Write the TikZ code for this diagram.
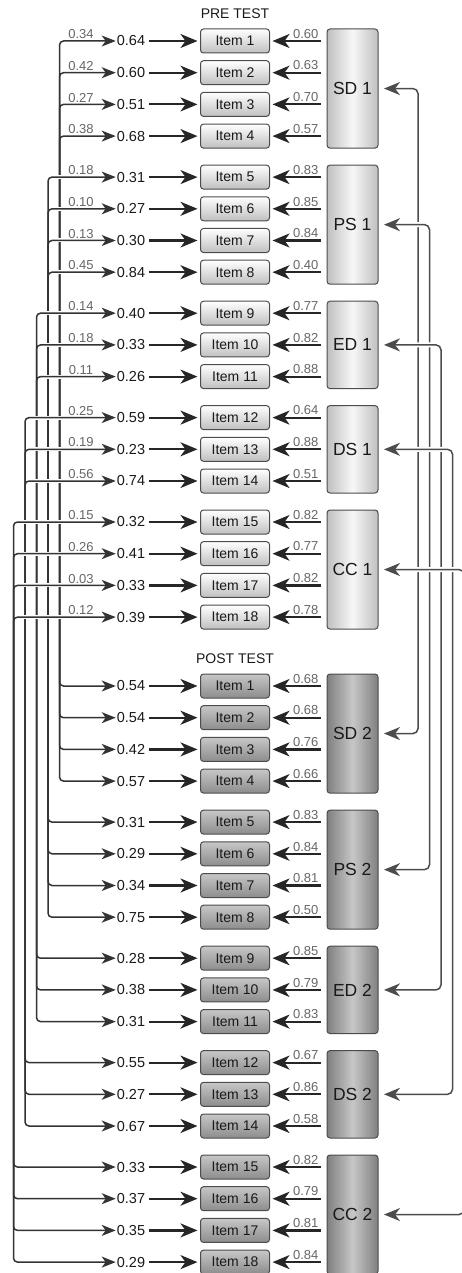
\documentclass[tikz,border=0pt]{standalone}
\usepackage{fontspec}
\setmainfont{Liberation Sans}
\usetikzlibrary{arrows.meta}

\begin{document}
\begin{tikzpicture}[x=1pt,y=-1pt,
 txt/.style={text=black!90,inner sep=1pt,font=\fontsize{14.5}{16}\selectfont},
 lbl/.style={text=black!60,inner sep=1.5pt,font=\fontsize{13}{15}\selectfont},
 itema/.style={draw=black!70,line width=1pt,rounded corners=3pt,minimum width=69pt,minimum height=24pt,
   inner sep=0pt,outer xsep=3pt,top color=white,bottom color=black!25,text=black!90,font=\fontsize{14}{16}\selectfont},
 itemb/.style={itema,top color=black!22,bottom color=black!45},
 fac/.style={draw=black!70,line width=1pt,rounded corners=3pt,minimum width=51pt,inner sep=0pt,
   outer xsep=6pt,text=black!90,font=\fontsize{17.5}{19}\selectfont},
 faca/.style={fac,left color=black!25,right color=black!25,middle color=black!3},
 facb/.style={fac,left color=black!50,right color=black!50,middle color=black!22},
 res/.style={-{Stealth[length=17pt,width=14pt,inset=5pt]},black!85,line width=2.2pt},
 cov/.style={{Stealth[length=14pt,width=11pt,inset=4pt]}-{Stealth[length=14pt,width=11pt,inset=4pt]},
   black!80,line width=1.5pt,rounded corners=4pt},
 gap/.style={white,line width=4pt},
 link/.style={{Stealth[length=16pt,width=13pt,inset=5pt]}-{Stealth[length=16pt,width=13pt,inset=5pt]},
   black!70,line width=1.5pt,rounded corners=5pt,preaction={draw=white,line width=5pt}}]
\useasboundingbox (0,0) rectangle (461,1273);

\node[txt,font=\fontsize{14}{16}\selectfont] (pre) at (235,14) {PRE TEST};
\node[txt,font=\fontsize{14}{16}\selectfont] (post) at (235,659) {POST TEST};

% latent factors, pre and post
\foreach \f/\t/\a/\n/\g in {SD/SD/1/4/0,PS/PS/5/4/1,ED/ED/9/3/2,DS/DS/12/3/3,CC/CC/15/4/4}{
  \pgfmathsetmacro\yf{41+(\a-1)*31.7+\g*9.3+(\n-1)*15.85}
  \pgfmathsetmacro\hf{(\n-1)*31.7+24}
  \node[faca,minimum height=\hf pt] (\f1) at (352.5,\yf) {\t\ 1};
  \node[facb,minimum height=\hf pt] (\f2) at (352.5,\yf+645) {\t\ 2};
}

% items, residuals and correlated errors
\foreach \i/\g/\cv/\ra/\la/\rb/\lb/\f in {
  1/0/0.34/0.64/0.60/0.54/0.68/SD, 2/0/0.42/0.60/0.63/0.54/0.68/SD,
  3/0/0.27/0.51/0.70/0.42/0.76/SD, 4/0/0.38/0.68/0.57/0.57/0.66/SD,
  5/1/0.18/0.31/0.83/0.31/0.83/PS, 6/1/0.10/0.27/0.85/0.29/0.84/PS,
  7/1/0.13/0.30/0.84/0.34/0.81/PS, 8/1/0.45/0.84/0.40/0.75/0.50/PS,
  9/2/0.14/0.40/0.77/0.28/0.85/ED, 10/2/0.18/0.33/0.82/0.38/0.79/ED,
  11/2/0.11/0.26/0.88/0.31/0.83/ED,
  12/3/0.25/0.59/0.64/0.55/0.67/DS, 13/3/0.19/0.23/0.88/0.27/0.86/DS,
  14/3/0.56/0.74/0.51/0.67/0.58/DS,
  15/4/0.15/0.32/0.82/0.33/0.82/CC, 16/4/0.26/0.41/0.77/0.37/0.79/CC,
  17/4/0.03/0.33/0.82/0.35/0.81/CC, 18/4/0.12/0.39/0.78/0.29/0.84/CC}{
  \pgfmathsetmacro\ya{41+(\i-1)*31.7+\g*9.3}
  \pgfmathsetmacro\yb{\ya+645}
  \pgfmathsetmacro\cx{59.5-11.5*\g}
  \node[txt] (ea\i) at (131,\ya) {\ra};
  \node[itema] (ia\i) at (235,\ya) {Item \i};
  \node[txt] (eb\i) at (131,\yb) {\rb};
  \node[itemb] (ib\i) at (235,\yb) {Item \i};
  \draw[res,shorten <=3pt] (ea\i) -- (ia\i);
  \draw[res,shorten <=3pt] (eb\i) -- (ib\i);
  \draw[res] (\f1.west |- ia\i) -- (ia\i) node[lbl,pos=0,anchor=south east] {\la};
  \draw[res] (\f2.west |- ib\i) -- (ib\i) node[lbl,pos=0,anchor=south east] {\lb};
  \draw[gap] (\cx+4,\ya) -- (ea\i.west);
  \draw[gap] (\cx+4,\yb) -- (eb\i.west);
  \draw[cov] (ea\i.west) -| (\cx,\yb) -- (eb\i.west);
  \node[lbl,anchor=south,inner sep=2pt] (c\i) at (81,\ya) {\cv};
}

% factor correlations
\coordinate (vSD) at (418,0);
\coordinate (vPS) at (429.5,0);
\coordinate (vED) at (441,0);
\coordinate (vDS) at (452.5,0);
\coordinate (vCC) at (464,0);
\foreach \f in {SD,PS,ED,DS,CC}
  \draw[link] (\f1.east) -- (\f1.east -| v\f) -- (\f2.east -| v\f) -- (\f2.east);
\end{tikzpicture}
\end{document}
